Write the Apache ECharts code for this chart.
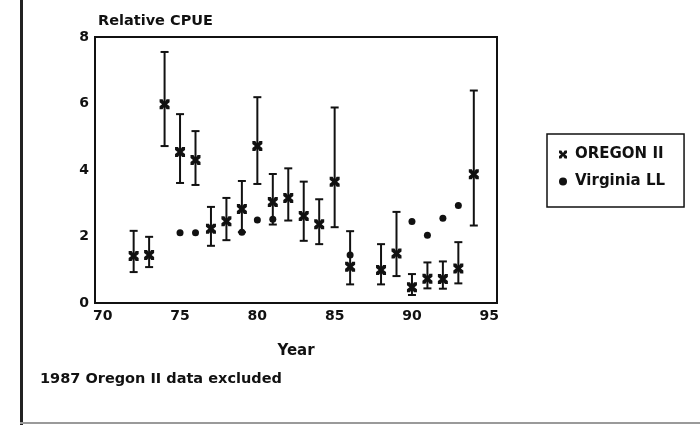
<!DOCTYPE html>
<html>
<head>
<meta charset="utf-8">
<script src="https://cdn.jsdelivr.net/npm/echarts@6/dist/echarts.min.js"></script>
<style>html,body{margin:0;padding:0;background:#fff;}#c{width:700px;height:425px;}</style>
</head>
<body>
<div id="c"></div>
<script>
// Oregon II survey: year, relative CPUE, lower and upper error bar
var oregonYears = [72, 73, 74, 75, 76, 77, 78, 79, 80, 81, 82, 83, 84, 85, 86, 88, 89, 90, 91, 92, 93, 94];
var oregonValues = [1.41, 1.44, 5.98, 4.54, 4.30, 2.23, 2.46, 2.83, 4.72, 3.04, 3.16, 2.62, 2.37, 3.65, 1.09, 0.99, 1.49, 0.47, 0.73, 0.72, 1.04, 3.87];
var oregonLow = [0.93, 1.08, 4.72, 3.61, 3.55, 1.72, 1.89, 2.13, 3.58, 2.36, 2.48, 1.87, 1.77, 2.28, 0.56, 0.56, 0.81, 0.24, 0.44, 0.43, 0.59, 2.33];
var oregonHigh = [2.17, 1.99, 7.55, 5.68, 5.17, 2.89, 3.16, 3.67, 6.19, 3.88, 4.05, 3.65, 3.12, 5.88, 2.16, 1.77, 2.74, 0.87, 1.22, 1.25, 1.83, 6.39];
// Virginia longline
var virginiaYears = [75, 76, 79, 80, 81, 86, 90, 91, 92, 93];
var virginiaValues = [2.11, 2.11, 2.13, 2.50, 2.52, 1.44, 2.45, 2.04, 2.55, 2.93];
var xTickLabels = [70, 75, 80, 85, 90, 95];
var yTickLabels = [0, 2, 4, 6, 8];

var ink = '#111';
var font = 'DejaVu Sans';
var xMark = 'path://M0,0L3,0L5,3L7,0L10,0L10,3L7.5,5L10,7L10,10L7,10L5,7L3,10L0,10L0,7L2.5,5L0,3Z';

var oregonPts = oregonYears.map(function (y, i) { return [y, oregonValues[i]]; });
var errPts = oregonYears.map(function (y, i) { return [y, oregonLow[i], oregonHigh[i]]; });
var virginiaPts = virginiaYears.map(function (y, i) { return [y, virginiaValues[i]]; });

var chart = echarts.init(document.getElementById('c'));
chart.setOption({
  animation: false,
  backgroundColor: '#fff',
  textStyle: { fontFamily: font },
  grid: { left: 95, top: 37, width: 402, height: 266, show: true, borderColor: ink, borderWidth: 2, backgroundColor: 'transparent' },
  title: { text: 'Relative CPUE', left: 93, top: 9, textStyle: { fontFamily: font, fontSize: 14.5, fontWeight: 'bold', color: ink } },
  legend: {
    orient: 'vertical', left: 547, top: 134,
    data: ['OREGON II', 'Virginia LL'],
    borderColor: ink, borderWidth: 1.5, padding: [13, 19, 18, 12],
    itemWidth: 8, itemHeight: 8, itemGap: 12,
    textStyle: { fontFamily: font, fontSize: 15, fontWeight: 'bold', color: ink, padding: [0, 0, 0, 3] }
  },
  xAxis: {
    type: 'value', min: 69.5, max: 95.5,
    name: 'Year', nameLocation: 'middle', nameGap: 41,
    nameTextStyle: { fontFamily: font, fontSize: 15, fontWeight: 'bold', color: ink },
    axisLine: { show: false }, axisTick: { show: false }, splitLine: { show: false },
    axisLabel: { customValues: xTickLabels, fontFamily: font, fontSize: 14, fontWeight: 'bold', color: ink, margin: 6 }
  },
  yAxis: {
    type: 'value', min: 0, max: 8, interval: 2,
    axisLine: { show: false }, axisTick: { show: false }, splitLine: { show: false },
    axisLabel: { customValues: yTickLabels, fontFamily: font, fontSize: 14, fontWeight: 'bold', color: ink, margin: 6 }
  },
  series: [
    {
      name: 'err', type: 'custom', data: errPts, silent: true, z: 2,
      renderItem: function (params, api) {
        var x = api.value(0);
        var lo = api.coord([x, api.value(1)]);
        var hi = api.coord([x, api.value(2)]);
        var w = 4;
        var st = { stroke: ink, lineWidth: 2 };
        return {
          type: 'group', children: [
            { type: 'line', shape: { x1: lo[0], y1: lo[1], x2: hi[0], y2: hi[1] }, style: st },
            { type: 'line', shape: { x1: lo[0] - w, y1: lo[1], x2: lo[0] + w, y2: lo[1] }, style: st },
            { type: 'line', shape: { x1: hi[0] - w, y1: hi[1], x2: hi[0] + w, y2: hi[1] }, style: st }
          ]
        };
      }
    },
    {
      name: 'OREGON II', type: 'scatter', data: oregonPts, symbol: xMark, symbolSize: 10, z: 3,
      itemStyle: { color: ink, opacity: 1 }
    },
    {
      name: 'Virginia LL', type: 'scatter', data: virginiaPts, symbol: 'circle', symbolSize: 7, z: 3,
      itemStyle: { color: ink, opacity: 1 }
    }
  ],
  graphic: [
    { type: 'text', left: 40, top: 372, style: { text: '1987 Oregon II data excluded', font: 'bold 14.5px "DejaVu Sans"', fill: ink } },
    { type: 'rect', shape: { x: 20, y: 0, width: 3, height: 425 }, style: { fill: '#222' } },
    { type: 'rect', shape: { x: 20, y: 422, width: 680, height: 2 }, style: { fill: '#9a9a9a' } }
  ]
});
</script>
</body>
</html>
